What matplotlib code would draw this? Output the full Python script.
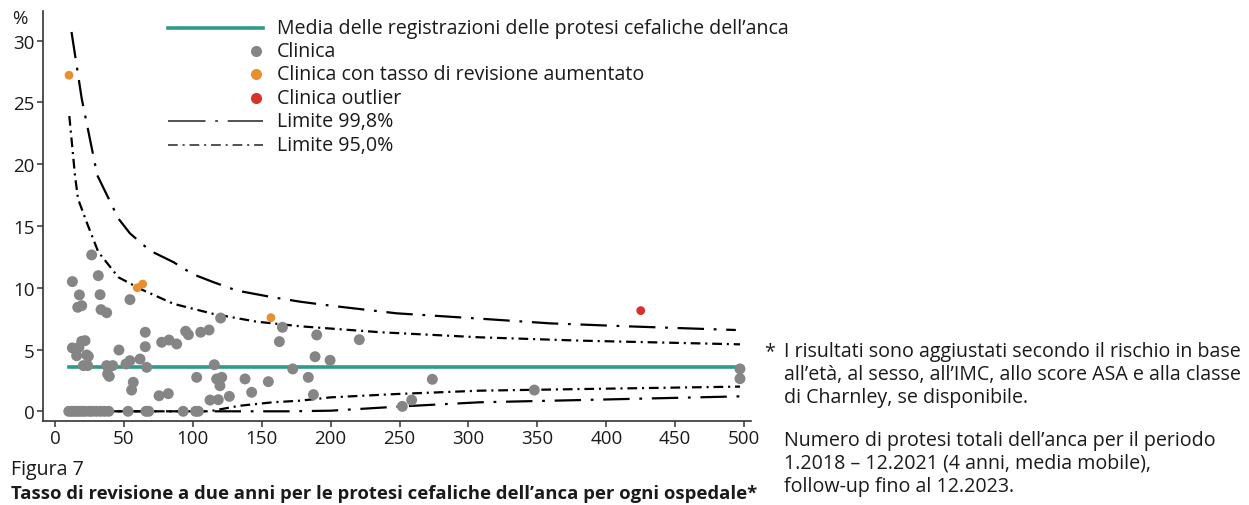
import matplotlib
matplotlib.use("Agg")
import matplotlib.pyplot as plt
from matplotlib.lines import Line2D

plt.rcParams['font.family'] = ['Open Sans', 'DejaVu Sans']
plt.rcParams['lines.scale_dashes'] = False

# ---------------- data ----------------
clinic_x = [26.6, 12.6, 31.4, 17.7, 32.7, 54.4, 16.5, 19.4, 33.4, 37.5,
            12.6, 17.4, 19.4, 21.8, 15.7, 23.0, 24.2, 20.6, 23.7, 37.5, 41.9, 38.2, 39.4,
            46.4, 51.5, 54.4, 61.7, 65.5, 65.5, 66.5, 56.8, 55.6, 75.5, 82.2, 77.4, 82.7,
            88.3, 94.8, 96.8, 105.7, 111.8, 115.6, 102.8, 117.3, 121.0, 119.7, 112.5,
            118.5, 126.5, 137.9, 142.7, 154.8, 120.2, 162.8, 165.0, 172.5,
            189.9, 220.8, 188.7, 199.6, 183.8, 187.5, 273.8, 252.0, 258.8, 347.8, 497.0, 497.0,
            10, 12, 14, 16, 18, 20, 22, 25, 27, 30, 33, 36, 39, 53, 66, 68, 93, 102, 104]
clinic_y = [12.66, 10.5, 10.98, 9.42, 9.44, 9.04, 8.42, 8.55, 8.23, 7.98,
            5.13, 5.18, 5.67, 5.72, 4.5, 4.56, 4.45, 3.7, 3.7, 3.7, 3.7, 3.02, 2.83,
            4.96, 3.83, 4.1, 4.23, 6.4, 5.23, 3.56, 2.35, 1.72, 1.26, 1.43, 5.59, 5.77,
            5.45, 6.48, 6.2, 6.4, 6.58, 3.77, 2.75, 2.62, 2.75, 2.07, 0.91,
            0.94, 1.21, 2.62, 1.54, 2.4, 7.55, 5.64, 6.8, 3.43,
            6.18, 5.8, 4.42, 4.13, 2.75, 1.35, 2.59, 0.4, 0.91, 1.72, 3.43, 2.64,
            0, 0, 0, 0, 0, 0, 0, 0, 0, 0, 0, 0, 0, 0, 0, 0, 0, 0, 0]

increased_x = [10.2, 59.7, 63.6, 156.7]
increased_y = [27.2, 10.0, 10.3, 7.58]

outlier_x = [425.0]
outlier_y = [8.15]

mean_x = [10, 497]
mean_rate = 3.62

upper998_x = [12, 19.4, 30.7, 46, 54.4, 69, 86, 100, 115, 132, 158, 178, 200, 248, 304, 359, 415, 494]
upper998_y = [30.7, 25.3, 19.1, 15.6, 14.4, 13.0, 12.07, 11.1, 10.45, 9.77, 9.23, 8.87, 8.55, 7.93, 7.53, 7.12, 6.88, 6.58]

upper950_x = [10.4, 14.5, 16.7, 23, 31.4, 46, 62, 86, 115, 146, 178, 236, 308, 381, 497]
upper950_y = [23.9, 19.1, 17.2, 15.3, 12.9, 10.85, 9.9, 8.7, 7.88, 7.26, 6.88, 6.4, 5.99, 5.72, 5.42]

lower950_x = [10, 112, 134, 158, 178, 200, 248, 308, 381, 497]
lower950_y = [0, 0, 0.45, 0.73, 0.86, 1.13, 1.4, 1.67, 1.8, 2.0]

lower998_x = [10, 170, 200, 252, 308, 381, 497]
lower998_y = [0, 0, 0.05, 0.4, 0.73, 0.91, 1.21]

x_ticks = [0, 50, 100, 150, 200, 250, 300, 350, 400, 450, 500]
y_ticks = [0, 5, 10, 15, 20, 25, 30]

legend_labels = ["Media delle registrazioni delle protesi cefaliche dell\u2019anca",
                 "Clinica", "Clinica con tasso di revisione aumentato",
                 "Clinica outlier", "Limite 99,8%", "Limite 95,0%"]

# ---------------- style ----------------
TEAL = '#2E9A8C'
GRAY = '#858585'
ORANGE = '#E8902E'
RED = '#D9322A'
DASH998 = (19, 7, 2, 7)
DASH950 = (7, 3.5, 1.5, 3.5)
FS = 14.1
FS_TICK = 13.5
FS_BOLD = 13.3

W, H = 1249, 506
fig = plt.figure(figsize=(W / 100, H / 100), dpi=100)
ax = fig.add_axes([43 / W, 1 - 421.7 / H, (751 - 43) / W, (421.7 - 12) / H])

ax.plot(upper998_x, upper998_y, color='black', lw=1.6, dashes=DASH998, zorder=2)
ax.plot(lower998_x, lower998_y, color='black', lw=1.6, dashes=DASH998, zorder=2)
ax.plot(upper950_x, upper950_y, color='black', lw=1.6, dashes=DASH950, zorder=2)
ax.plot(lower950_x, lower950_y, color='black', lw=1.6, dashes=DASH950, zorder=2)
ax.plot(mean_x, [mean_rate] * len(mean_x), color=TEAL, lw=2.6, zorder=3)

ax.scatter(clinic_x, clinic_y, s=62, color=GRAY, edgecolors='none', zorder=4)
ax.scatter(increased_x, increased_y, s=40, color=ORANGE, edgecolors='none', zorder=5)
ax.scatter(outlier_x, outlier_y, s=40, color=RED, edgecolors='none', zorder=5)

ax.set_xlim(-8.7, 505)
ax.set_ylim(-0.76, 32.4)
ax.set_xticks(x_ticks)
ax.set_yticks(y_ticks)
for s in ['top', 'right']:
    ax.spines[s].set_visible(False)
for s in ['left', 'bottom']:
    ax.spines[s].set_color('#333333')
    ax.spines[s].set_linewidth(1.2)
ax.tick_params(direction='out', length=4, width=1.1, color='#333333',
               labelsize=FS_TICK, labelcolor='#1a1a1a', pad=2)

def fx(px):
    return px / W

def fy(py):
    return 1 - py / H

fig.text(fx(12), fy(19), '%', fontsize=FS_TICK, ha='left', va='center', color='#1a1a1a')

# ---------------- legend (manual) ----------------
rows = [29, 52, 75, 99, 122, 146]
x0, x1, xm, xt = 168, 263, 256, 277
fig.add_artist(Line2D([fx(x0), fx(x1)], [fy(rows[0])] * 2, color=TEAL, lw=2.6,
                      transform=fig.transFigure))
for r, c in zip(rows[1:4], [GRAY, ORANGE, RED]):
    fig.add_artist(Line2D([fx(xm)], [fy(r)], marker='o', markersize=8, color=c,
                          markeredgewidth=0, linestyle='none', transform=fig.transFigure))
fig.add_artist(Line2D([fx(x0), fx(x1)], [fy(rows[4])] * 2, color='#444444', lw=1.3,
                      dashes=(27, 7, 2, 7), transform=fig.transFigure))
fig.add_artist(Line2D([fx(x0), fx(x1)], [fy(rows[5])] * 2, color='#444444', lw=1.3,
                      dashes=DASH950, transform=fig.transFigure))
for r, lab in zip(rows, legend_labels):
    fig.text(fx(xt), fy(r), lab, fontsize=FS, ha='left', va='center', color='#1a1a1a')

# ---------------- side notes ----------------
note1 = ["I risultati sono aggiustati secondo il rischio in base",
         "all\u2019et\u00e0, al sesso, all\u2019IMC, allo score ASA e alla classe",
         "di Charnley, se disponibile."]
note2 = ["Numero di protesi totali dell\u2019anca per il periodo",
         "1.2018 \u2013 12.2021 (4 anni, media mobile),",
         "follow-up fino al 12.2023."]
fig.text(fx(764), fy(352), '*', fontsize=FS, ha='left', va='center', color='#1a1a1a')
for i, line in enumerate(note1):
    fig.text(fx(784), fy(352 + 23 * i), line, fontsize=FS, ha='left', va='center', color='#1a1a1a')
for i, line in enumerate(note2):
    fig.text(fx(784), fy(441 + 23 * i), line, fontsize=FS, ha='left', va='center', color='#1a1a1a')

# ---------------- caption ----------------
fig.text(fx(11), fy(470), 'Figura 7', fontsize=FS, ha='left', va='center', color='#1a1a1a')
fig.text(fx(11), fy(494),
         'Tasso di revisione a due anni per le protesi cefaliche dell\u2019anca per ogni ospedale*',
         fontsize=FS_BOLD, fontweight='bold', ha='left', va='center', color='#1a1a1a')

fig.savefig('out.png', dpi=100)
